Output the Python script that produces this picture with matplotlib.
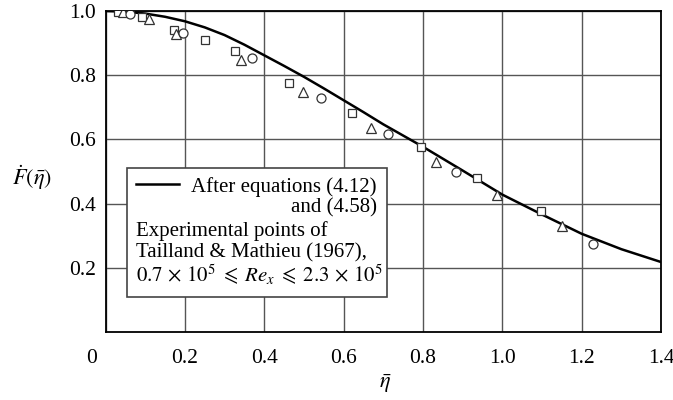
import matplotlib
matplotlib.use("Agg")
import matplotlib.pyplot as plt
import matplotlib.transforms as mtransforms
from matplotlib.patches import Rectangle
from matplotlib.lines import Line2D

plt.rcParams["font.family"] = ["Liberation Serif", "DejaVu Serif"]
plt.rcParams["mathtext.fontset"] = "stix"

# curve after equations (4.12) and (4.58)
eta_curve = [0.0, 0.05, 0.1, 0.15, 0.2, 0.25, 0.3, 0.35, 0.4, 0.45, 0.5, 0.55, 0.6, 0.65,
             0.7, 0.8, 0.9, 1.0, 1.1, 1.2, 1.3, 1.4]
F_curve = [1.000, 0.998, 0.992, 0.982, 0.968, 0.949, 0.925, 0.895, 0.862, 0.829, 0.795, 0.759,
           0.722, 0.685, 0.647, 0.577, 0.503, 0.428, 0.366, 0.306, 0.258, 0.218]

# Tailland & Mathieu (1967) experimental points
sq_eta = [0.031, 0.091, 0.173, 0.251, 0.326, 0.4625, 0.622, 0.794, 0.937, 1.098]
sq_F = [0.998, 0.980, 0.942, 0.910, 0.876, 0.777, 0.683, 0.577, 0.480, 0.378]
tri_eta = [0.045, 0.110, 0.178, 0.341, 0.4985, 0.668, 0.833, 0.987, 1.151]
tri_F = [0.996, 0.975, 0.928, 0.847, 0.748, 0.634, 0.530, 0.428, 0.331]
cir_eta = [0.062, 0.196, 0.368, 0.542, 0.713, 0.883, 1.229]
cir_F = [0.990, 0.931, 0.855, 0.728, 0.616, 0.499, 0.275]

xticks = [0, 0.2, 0.4, 0.6, 0.8, 1.0, 1.2, 1.4]
xtick_labels = ["0", "0.2", "0.4", "0.6", "0.8", "1.0", "1.2", "1.4"]
yticks = [0.2, 0.4, 0.6, 0.8, 1.0]
ytick_labels = ["0.2", "0.4", "0.6", "0.8", "1.0"]

fig = plt.figure(figsize=(6.73, 4.0), dpi=100)
ax = fig.add_axes([0.1568, 0.17, 0.8254, 0.8025])

ax.set_xlim(0, 1.4)
ax.set_ylim(0, 1.0)
ax.set_xticks(xticks)
ax.set_xticklabels(xtick_labels)
ax.set_yticks(yticks)
ax.set_yticklabels(ytick_labels)
ax.tick_params(length=0, labelsize=15.5)
ax.tick_params(axis="x", pad=12)
ax.tick_params(axis="y", pad=7)
ax.grid(True, color="#555555", linewidth=1.0)
ax.set_axisbelow(True)
for sp in ax.spines.values():
    sp.set_linewidth(1.3)
    sp.set_color("black")

# shared origin label sits left of the corner
offset = mtransforms.ScaledTranslation(-0.14, 0, fig.dpi_scale_trans)
lab0 = ax.get_xticklabels()[0]
lab0.set_transform(lab0.get_transform() + offset)

ax.plot(eta_curve, F_curve, color="black", linewidth=1.8, zorder=3)
mk = dict(linestyle="none", markerfacecolor="white", markeredgecolor="#333333",
          markeredgewidth=0.9, zorder=4)
ax.plot(sq_eta, sq_F, marker="s", markersize=6, **mk)
ax.plot(tri_eta, tri_F, marker="^", markersize=7, **mk)
ax.plot(cir_eta, cir_F, marker="o", markersize=6.5, **mk)

ax.set_xlabel(r"$\bar{\eta}$", fontsize=16, va="center")
ax.xaxis.set_label_coords(0.503, -0.162)
ax.set_ylabel(r"$\dot{F}(\bar{\eta})$", fontsize=16, rotation=0, va="center", ha="center")
ax.yaxis.set_label_coords(-0.132, 0.48)

# legend box, hand laid out like the original
box = Rectangle((0.038, 0.110), 0.468, 0.401, transform=ax.transAxes,
                facecolor="white", edgecolor="#444444", linewidth=1.2, zorder=5)
ax.add_patch(box)
ax.add_line(Line2D([0.054, 0.132], [0.460, 0.460], transform=ax.transAxes,
                   color="black", linewidth=1.8, zorder=6))
fs = 15
ax.text(0.488, 0.452, "After equations (4.12)", transform=ax.transAxes,
        ha="right", va="center", fontsize=fs, zorder=6)
ax.text(0.488, 0.386, "and (4.58)", transform=ax.transAxes,
        ha="right", va="center", fontsize=fs, zorder=6)
ax.text(0.054, 0.313, "Experimental points of", transform=ax.transAxes,
        ha="left", va="center", fontsize=fs, zorder=6)
ax.text(0.054, 0.246, "Tailland & Mathieu (1967),", transform=ax.transAxes,
        ha="left", va="center", fontsize=fs, zorder=6)
ax.text(0.054, 0.178,
        r"$0.7\,\times\,10^5\;\leqslant\;Re_x\;\leqslant\;2.3\,\times\,10^5$",
        transform=ax.transAxes, ha="left", va="center", fontsize=fs, zorder=6)

fig.savefig("out.png", dpi=100)
